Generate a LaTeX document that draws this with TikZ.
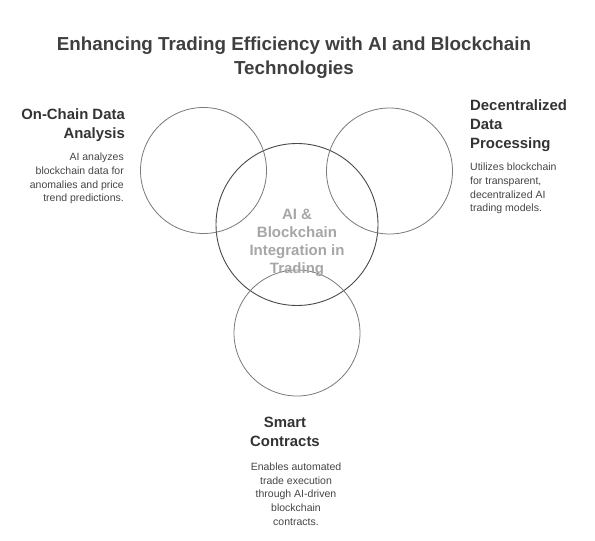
\documentclass[tikz,border=0pt]{standalone}
\usepackage{fontspec}
\setmainfont{Liberation Sans}
\definecolor{titlegray}{HTML}{3F3F3F}
\definecolor{headgray}{HTML}{333333}
\definecolor{textgray}{HTML}{444444}
\definecolor{ringgray}{HTML}{7A7A7A}
\definecolor{hubgray}{HTML}{4A4A4A}
\definecolor{hubtext}{HTML}{A6A6A6}
\tikzset{
  ring/.style={circle, draw=ringgray, line width=0.8pt, minimum size=126pt, inner sep=0pt},
  hub/.style={circle, draw=hubgray, line width=0.9pt, minimum size=162pt, inner sep=0pt},
  heading/.style={inner sep=0pt, text=headgray, font=\fontsize{14.9}{19}\selectfont\bfseries},
  blurb/.style={inner sep=0pt, text=textgray, font=\fontsize{10.5}{13.7}\selectfont}
}
\begin{document}
\begin{tikzpicture}[x=1pt, y=-1pt]
  \useasboundingbox (0,0) rectangle (595,541);
  % circles
  \node[hub] (hub) at (297,224.5) {};
  \node[ring] (onchain) at (203.5,170.5) {};
  \node[ring] (decentral) at (389.5,171) {};
  \node[ring] (smart) at (297,333) {};
  % title
  \node[inner sep=0pt, align=center, text=titlegray,
    font=\fontsize{18.8}{24}\selectfont\bfseries] (title) at (294,58)
    {Enhancing Trading Efficiency with AI and Blockchain\\Technologies};
  % hub label
  \node[inner sep=0pt, align=center, text=hubtext,
    font=\fontsize{15}{18}\selectfont\bfseries] (hublabel) at (297,243)
    {AI \&\\Blockchain\\Integration in\\Trading};
  % left
  \node[heading, anchor=east, align=right] (onchainhead) at (125,125.5)
    {On-Chain Data\\Analysis};
  \node[blurb, anchor=east, align=right] (onchaintext) at (124,178.5)
    {AI analyzes\\blockchain data for\\anomalies and price\\trend predictions.};
  % right
  \node[heading, anchor=west, align=left] (decentralhead) at (470,125.5)
    {Decentralized\\Data\\Processing};
  \node[blurb, anchor=west, align=left] (decentraltext) at (470,188.5)
    {Utilizes blockchain\\for transparent,\\decentralized AI\\trading models.};
  % bottom
  \node[heading, align=center] (smarthead) at (285,431.5)
    {Smart\\Contracts};
  \node[blurb, align=center] (smarttext) at (296,494)
    {Enables automated\\trade execution\\through AI-driven\\blockchain\\contracts.};
\end{tikzpicture}
\end{document}
